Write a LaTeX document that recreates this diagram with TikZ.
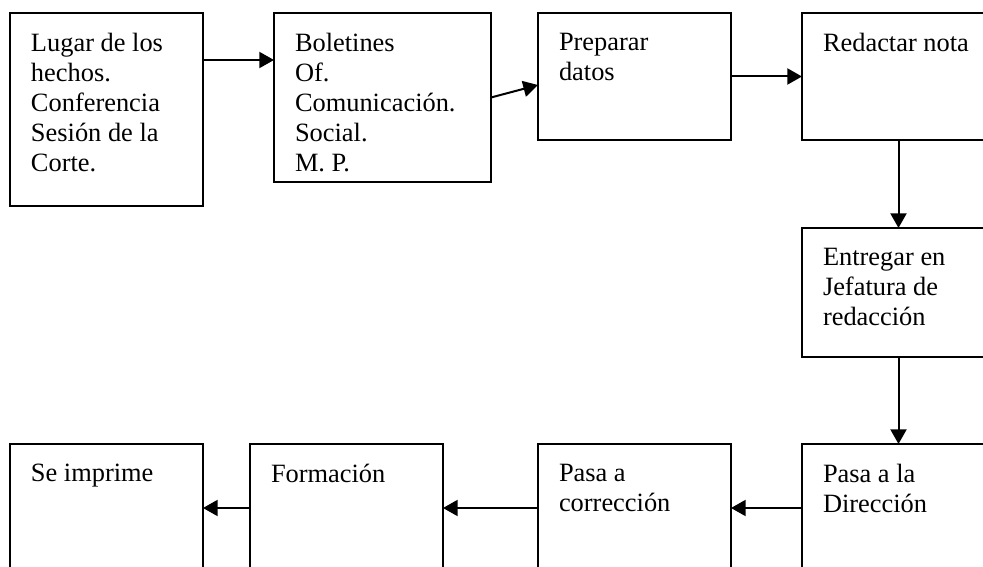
\documentclass[tikz,border=0pt]{standalone}
\usepackage{fontspec}
\setmainfont{Liberation Serif}
\usetikzlibrary{arrows.meta}
\newcommand{\contenido}[3]{\parbox[t][#2][t]{#1}{\raggedright #3}}

\begin{document}
\begin{tikzpicture}[x=0.75pt,y=-0.75pt,
		caja/.style={draw,line width=1.5pt,anchor=north west,outer sep=0pt,inner xsep=15.75pt,inner ysep=15pt,font=\fontsize{19.8pt}{22.5pt}\selectfont},
		flecha/.style={-{Triangle[length=11pt,width=12pt]},line width=1.5pt}]
		\clip (0,0) rectangle (983,567);
		% fila de arriba
		\node[caja] (lugar) at (10,13) {\contenido{113.25pt}{114.75pt}{Lugar de los\\hechos.\\Conferencia\\Sesión de la\\Corte.}};
		\node[caja] (boletines) at (274,13) {\contenido{131.25pt}{96.75pt}{Boletines\\Of.\\Comunicación.\\Social.\\M. P.}};
		\node[caja] (preparar) at (538,13) {\contenido{113.25pt}{65.25pt}{Preparar\\datos}};
		\node[caja] (redactar) at (802,13) {\contenido{113.25pt}{65.25pt}{Redactar nota}};
		% columna derecha
		\node[caja] (entregar) at (802,228) {\contenido{113.25pt}{66.75pt}{Entregar en\\Jefatura de\\redacción}};
		% fila de abajo
		\node[caja] (direccion) at (802,444) {\contenido{113.25pt}{66pt}{Pasa a la\\Dirección}};
		\node[caja] (correccion) at (538,444) {\contenido{113.25pt}{66pt}{Pasa a\\corrección}};
		\node[caja] (formacion) at (250,444) {\contenido{113.25pt}{66pt}{Formación}};
		\node[caja] (imprime) at (10,444) {\contenido{113.25pt}{66pt}{Se imprime}};
		% flechas
		\draw[flecha]([yshift=-35.25pt]lugar.north east)--([yshift=-35.25pt]boletines.north west);
		\draw[flecha](boletines.east)--([yshift=-6.4pt]preparar.west);
		\draw[flecha](preparar.east)--(redactar.west);
		\draw[flecha](redactar.south)--(entregar.north);
		\draw[flecha](entregar.south)--(direccion.north);
		\draw[flecha](direccion.west)--(correccion.east);
		\draw[flecha](correccion.west)--(formacion.east);
		\draw[flecha](formacion.west)--(imprime.east);
\end{tikzpicture}
\end{document}
